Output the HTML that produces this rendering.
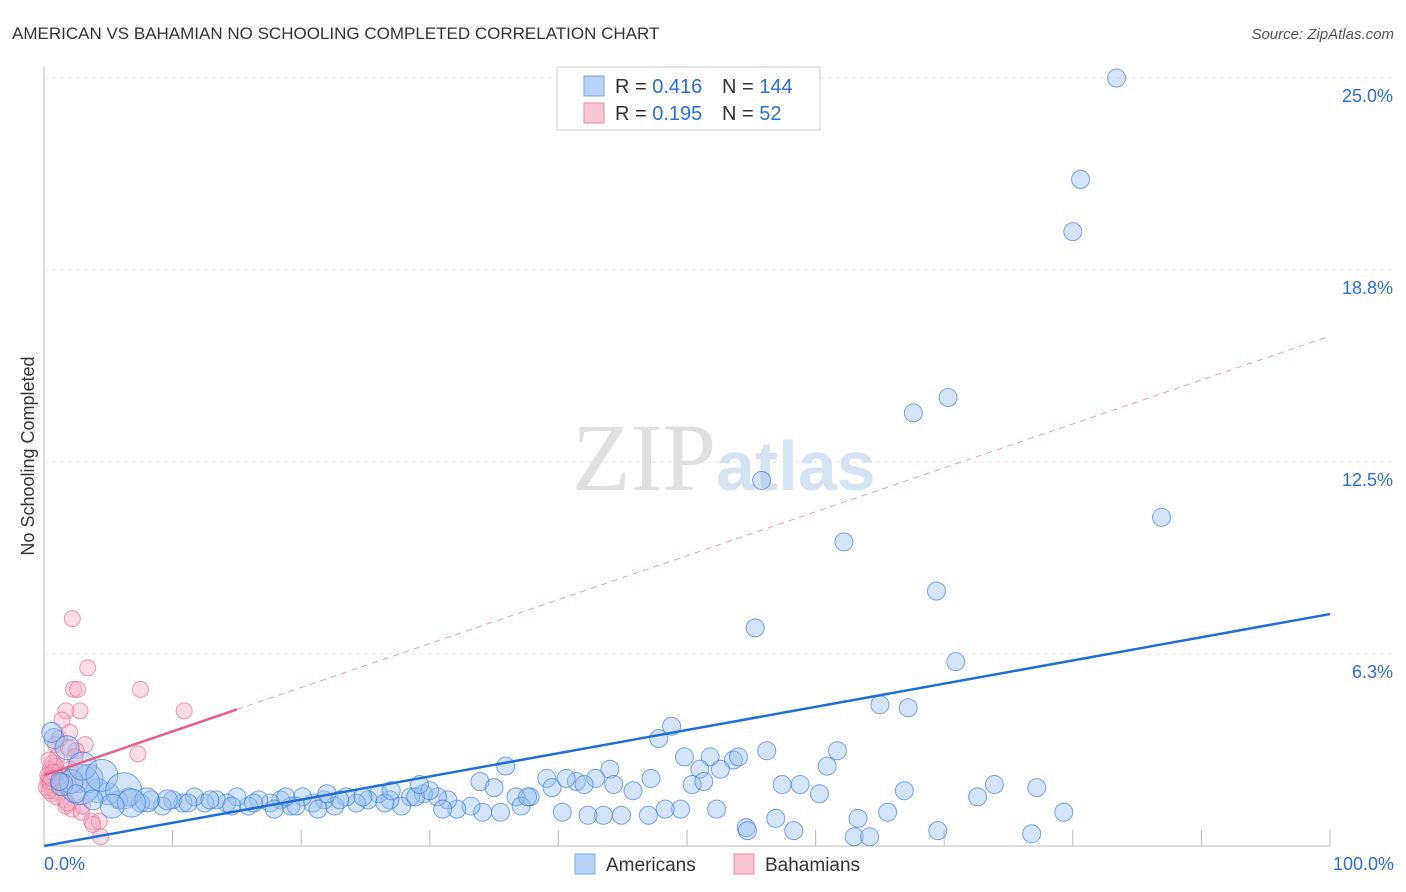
<!DOCTYPE html>
<html><head><meta charset="utf-8"><style>
body{margin:0;background:#fff;font-family:"Liberation Sans",sans-serif;}
svg{display:block}
</style></head><body>
<svg id="chart" width="1406" height="892">
<text x="12" y="39" font-size="17" fill="#333">AMERICAN VS BAHAMIAN NO SCHOOLING COMPLETED CORRELATION CHART</text>
<text x="1394" y="39" font-size="15" fill="#555" text-anchor="end" font-style="italic">Source: ZipAtlas.com</text>
<text x="34" y="456" font-size="18" fill="#333" transform="rotate(-90 34 456)" text-anchor="middle">No Schooling Completed</text>
<g id="grid"></g>
<text x="716" y="490" font-size="96" fill="#e0e0e0" text-anchor="end" font-family="Liberation Serif,serif">ZIP</text>
<text x="716" y="490" font-size="70" fill="#d6e3f4" font-weight="bold">atlas</text>
<g id="pts"></g>
<g id="lines"></g>
<g>
<rect x="557" y="67" width="263" height="63" fill="#fff" stroke="#ccc"/>
<rect x="584" y="76" width="20" height="20" fill="#b8d3f5" stroke="#7aa6e0"/>
<rect x="584" y="103" width="20" height="20" fill="#f9c6d4" stroke="#e88aa6"/>
<text x="615" y="93" font-size="20" fill="#333">R = <tspan fill="#2a6fd6">0.416</tspan></text>
<text x="722" y="93" font-size="20" fill="#333">N = <tspan fill="#2a6fd6">144</tspan></text>
<text x="615" y="120" font-size="20" fill="#333">R = <tspan fill="#2a6fd6">0.195</tspan></text>
<text x="722" y="120" font-size="20" fill="#333">N = <tspan fill="#2a6fd6"> 52</tspan></text>
</g>
<g>
<rect x="575" y="854" width="20" height="20" fill="#b8d3f5" stroke="#7aa6e0"/>
<text x="606" y="871" font-size="19" fill="#333">Americans</text></g>
<g>
<rect x="734" y="854" width="20" height="20" fill="#f9c6d4" stroke="#e88aa6"/>
<text x="765" y="871" font-size="19" fill="#333">Bahamians</text></g>
</svg>
<script>
const yTicks=[6.25,12.5,18.75,25];
const yTickLabels=["6.3%","12.5%","18.8%","25.0%"];
const xTickLabels=["0.0%","100.0%"];
const amerX=[83.4,80.6,80.0,70.3,67.6,55.8,86.9,62.2,69.4,55.3,70.9,65.0,67.2,48.8,47.8,56.2,61.7,49.8,51.8,53.6,54.0,60.9,51.0,52.6,44.0,35.9,73.9,77.2,72.6,66.9,60.3,57.4,58.8,50.4,51.3,47.2,42.9,41.4,42.0,44.3,45.8,39.1,37.8,36.7,39.5,40.6,79.3,52.3,49.5,48.3,47.0,44.9,43.5,42.3,40.3,56.9,65.6,63.3,54.6,54.7,58.3,63.0,64.2,69.5,76.8,37.1,37.6,35.5,34.1,33.2,32.1,31.4,30.6,29.5,28.5,27.8,26.9,26.0,25.2,24.3,23.5,22.6,21.8,20.9,20.1,19.2,18.4,17.6,16.7,15.9,15.0,14.2,13.4,12.5,11.7,10.8,10.0,9.2,8.3,7.5,6.6,5.8,5.0,4.2,3.5,2.8,2.1,1.4,0.8,0.6,1.8,3.0,4.5,6.2,28.9,30.0,29.2,26.5,24.8,23.0,21.3,19.6,17.9,16.3,14.6,12.9,11.2,9.6,8.0,6.8,5.3,3.8,2.5,1.2,22.0,18.8,27.0,31.0,33.9,35.0,36.2,38.5];
const amerY=[25.0,21.7,20.0,14.6,14.1,11.9,10.7,9.9,8.3,7.1,6.0,4.6,4.5,3.9,3.5,3.1,3.1,2.9,2.9,2.8,2.9,2.6,2.5,2.5,2.5,2.6,2.0,1.9,1.6,1.8,1.7,2.0,2.0,2.0,2.1,2.2,2.2,2.1,2.0,2.0,1.8,2.2,1.6,1.6,1.9,2.2,1.1,1.2,1.2,1.2,1.0,1.0,1.0,1.0,1.1,0.9,1.1,0.9,0.6,0.5,0.5,0.3,0.3,0.5,0.4,1.3,1.6,1.1,1.1,1.3,1.2,1.5,1.6,1.7,1.6,1.3,1.5,1.7,1.5,1.4,1.6,1.3,1.5,1.4,1.6,1.3,1.5,1.4,1.5,1.3,1.6,1.4,1.5,1.4,1.6,1.4,1.5,1.3,1.5,1.4,1.6,1.5,1.7,1.8,2.2,2.0,2.1,2.0,3.5,3.7,3.2,2.6,2.3,1.8,1.6,1.8,2.0,1.4,1.6,1.5,1.2,1.3,1.2,1.4,1.3,1.5,1.4,1.5,1.5,1.4,1.3,1.5,1.7,2.1,1.7,1.6,1.8,1.2,2.1,1.9,1.8,1.6,1.9,1.5];
const amerR=[9,9,9,9,9,9,9,9,9,9,9,9,9,9,9,9,9,9,9,9,9,9,9,9,9,9,9,9,9,9,9,9,9,9,9,9,9,9,9,9,9,9,9,9,9,9,9,9,9,9,9,9,9,9,9,9,9,9,9,9,9,9,9,9,9,9,9,9,9,9,9,9,9,9,9,9,9,9,9,9,9,9,9,9,9,9,9,9,9,9,9,9,9,9,9,9,9,9,9,9,9,9,11,12,14,20,12,11,10,10,12,14,16,18,9,9,9,9,9,9,9,9,9,9,9,9,9,10,12,14,12,10,9,9,9,9,9,9,9,9];
const bahX=[2.2,3.4,2.3,2.6,7.5,2.8,1.7,10.9,1.4,1.2,2.0,3.2,7.3,0.9,1.0,0.5,0.4,0.6,0.8,1.6,1.7,2.2,2.9,3.7,4.3,3.8,4.4,0.7,1.1,0.3,0.5,1.3,0.9,2.5,0.4,0.6,0.2,1.5,0.8,1.0,2.0,2.7,0.3,0.5,1.2,0.7,1.8,0.4,0.6,3.0,1.9,2.4];
const bahY=[7.4,5.8,5.1,5.1,5.1,4.4,4.4,4.4,4.1,3.5,3.7,3.3,3.0,3.3,2.9,2.5,2.2,2.0,1.8,1.5,1.3,1.2,1.1,0.8,0.8,0.7,0.3,2.7,2.4,2.1,1.9,2.3,2.6,3.1,2.8,1.7,1.9,2.0,2.2,1.6,2.5,2.0,2.3,2.1,1.9,2.4,1.4,1.8,2.2,1.3,3.2,2.9];
const X0=44,X1=1330,Y0=846,PX_PER=30.72;
const xs=p=>X0+p*(X1-X0)/100, ys=v=>Y0-v*PX_PER;
const NS="http://www.w3.org/2000/svg";
function mk(t,a,parent){const e=document.createElementNS(NS,t);for(const k in a)e.setAttribute(k,a[k]);parent.appendChild(e);return e;}
const grid=document.getElementById('grid');
yTicks.forEach((v,i)=>{
 const l=mk('line',{x1:X0,x2:1394,y1:ys(v),y2:ys(v),stroke:'#e6e6e6','stroke-dasharray':'4,4'},grid);
 
 
 const t=mk('text',{x:1393,y:ys(v)+24,'font-size':18,fill:'#2a6fd6','text-anchor':'end'},grid);t.textContent=yTickLabels[i];
 
 
});
const ax=mk('line',{x1:X0,x2:X0,y1:66,y2:Y0,stroke:'#bbb'},grid);


const bx=mk('line',{x1:X0,x2:X1,y1:Y0,y2:Y0,stroke:'#bbb'},grid);


for(let i=1;i<=10;i++){const t=mk('line',{x1:xs(i*10),x2:xs(i*10),y1:Y0-16,y2:Y0,stroke:'#bbb'},grid);
 
 }
[[0,'start',44],[100,'end',1394]].forEach((d,i)=>{const t=mk('text',{x:d[2],y:870,'font-size':18,fill:'#2a6fd6','text-anchor':d[1]},grid);t.textContent=xTickLabels[i];
 
 });
const pts=document.getElementById('pts');
bahX.forEach((x,i)=>{const c=mk('circle',{cx:xs(x),cy:ys(bahY[i]),r:8,fill:'rgba(246,170,192,0.4)',stroke:'rgba(230,110,145,0.7)'},pts);
 
 });
amerX.forEach((x,i)=>{const c=mk('circle',{cx:xs(x),cy:ys(amerY[i]),r:amerR[i],fill:'rgba(150,190,240,0.4)',stroke:'rgba(60,130,220,0.7)'},pts);
 
 });
const lines=document.getElementById('lines');
const amerFit=[0,7.55], bahFit=[2.3,16.6];
let l1=mk('line',{x1:xs(0),y1:ys(amerFit[0]),x2:xs(100),y2:ys(amerFit[1]),stroke:'#1f6fd8','stroke-width':2.5},lines);


const bAt=p=>bahFit[0]+(bahFit[1]-bahFit[0])*p/100;
let l2=mk('line',{x1:xs(0),y1:ys(bAt(0)),x2:xs(15),y2:ys(bAt(15)),stroke:'#e8608a','stroke-width':2.5},lines);


let l3=mk('line',{x1:xs(15),y1:ys(bAt(15)),x2:xs(100),y2:ys(bAt(100)),stroke:'#e8a0b4','stroke-width':1,'stroke-dasharray':'6,5'},lines);


</script>
</body></html>
